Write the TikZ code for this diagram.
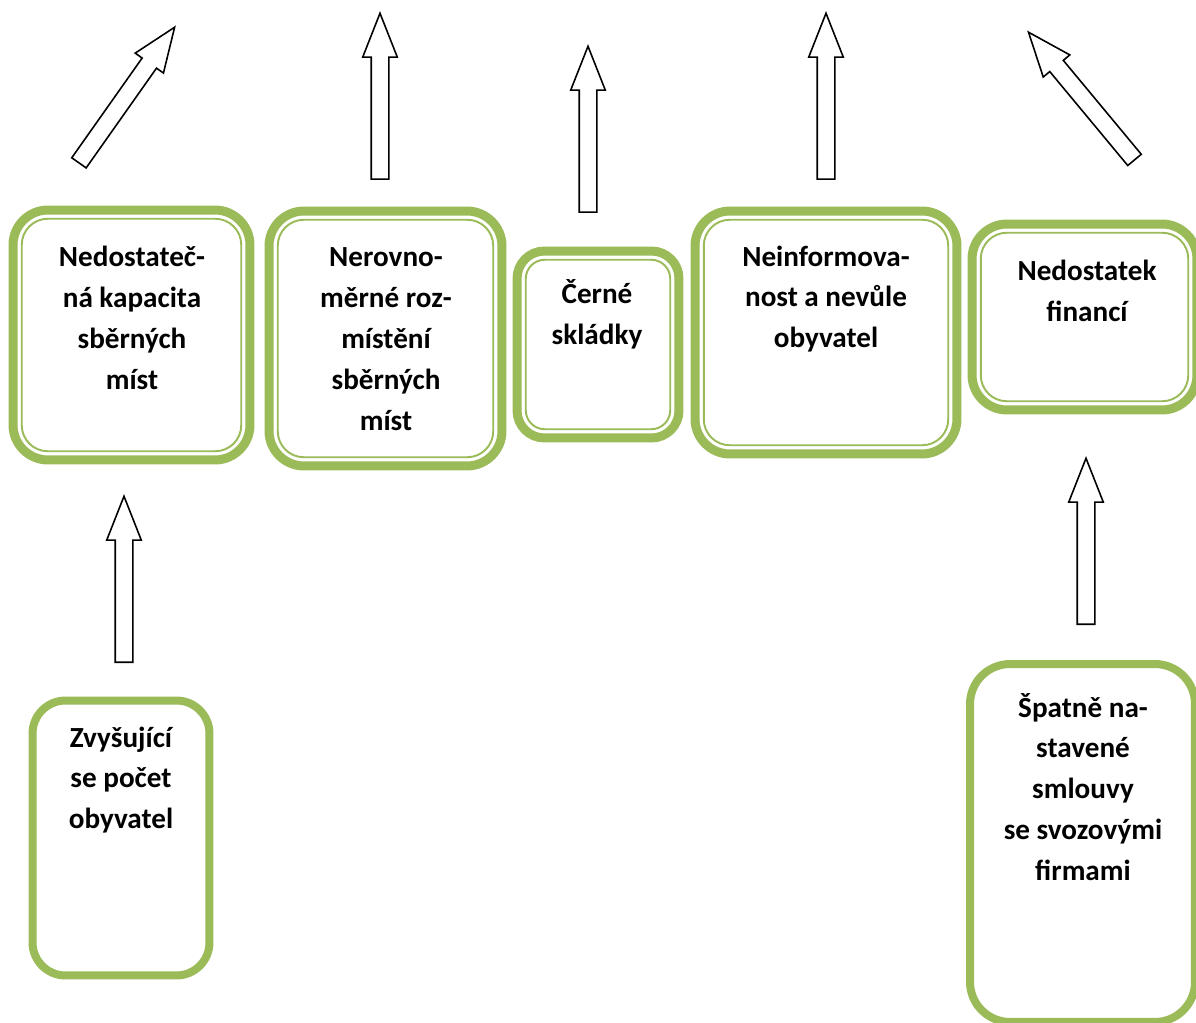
\documentclass[tikz,border=0pt]{standalone}
\usepackage{fontspec}
\setmainfont{Carlito}
\usetikzlibrary{shapes.arrows, positioning}
\definecolor{olivegreen}{HTML}{9BBB59}

\begin{document}
\begin{tikzpicture}[x=0.02cm, y=-0.02cm,
    font=\fontsize{16.6}{23.3}\selectfont\bfseries,
    box/.style={draw=olivegreen, fill=white, line width=0.18cm, outer sep=0pt, rounded corners=0.7cm},
    sbox/.style={draw=olivegreen, fill=white, line width=0.16cm, outer sep=0pt, rounded corners=0.66cm},
    innerline/.style={draw=olivegreen, line width=1.1pt, rounded corners=0.52cm},
    lbl/.style={align=center, inner sep=0pt},
    bigarrow/.style={single arrow, draw, fill=white, line width=0.9pt, inner xsep=0pt, inner ysep=0.16cm,
        single arrow head extend=0.17cm, single arrow tip angle=43, minimum height=3.32cm, anchor=tail}
]
    \path[use as bounding box, clip] (0,0) rectangle (1196,1023);

    \node[box, minimum width=4.74cm, minimum height=5.0cm]  (b1) at (131.5,335) {};
    \node[box, minimum width=4.66cm, minimum height=5.1cm]  (b2) at (385.5,338.5) {};
    \node[box, minimum width=3.24cm, minimum height=3.74cm, rounded corners=0.55cm] (b3) at (598,344.5) {};
    \node[box, minimum width=5.24cm, minimum height=4.86cm] (b4) at (826,332.5) {};
    \node[box, minimum width=4.5cm,  minimum height=3.72cm] (b5) at (1084.5,317) {};
    \node[sbox, minimum width=3.54cm, minimum height=5.5cm]  (b6) at (121,838) {};
    \node[sbox, minimum width=4.5cm,  minimum height=7.16cm, rounded corners=0.8cm] (b7) at (1082.5,843) {};

    \foreach \b in {b1,b2,b4,b5}
        \draw[innerline] ([shift={(0.175cm,0.175cm)}]\b.south west) rectangle ([shift={(-0.175cm,-0.175cm)}]\b.north east);
    \draw[innerline, rounded corners=0.38cm] ([shift={(0.175cm,0.175cm)}]b3.south west) rectangle ([shift={(-0.175cm,-0.175cm)}]b3.north east);

    \node[lbl] (t1) at (132,318)   {Nedostateč-\\ná kapacita\\sběrných\\míst};
    \node[lbl] (t2) at (386,339)   {Nerovno-\\měrné roz-\\místění\\sběrných\\míst};
    \node[lbl] (t3) at (597,314.5) {Černé\\skládky};
    \node[lbl] (t4) at (826,299)   {Neinformova-\\nost a nevůle\\obyvatel};
    \node[lbl] (t5) at (1087,290.5) {Nedostatek\\financí};
    \node[lbl] (t6) at (121,780)   {Zvyšující\\se počet\\obyvatel};
    \node[lbl] (t7) at (1083,787)  {Špatně na-\\stavené\\smlouvy\\se svozovými\\firmami};

    \node[bigarrow, rotate=54.8]  (a1) at (78.5,163.5) {};
    \node[bigarrow, rotate=90]    (a2) at (380,180) {};
    \node[bigarrow, rotate=90]    (a3) at (588,213) {};
    \node[bigarrow, rotate=90]    (a4) at (826,180) {};
    \node[bigarrow, rotate=129.7] (a5) at (1135,160.5) {};
    \node[bigarrow, rotate=90]    (a6) at (124,663) {};
    \node[bigarrow, rotate=90]    (a7) at (1086,625) {};
\end{tikzpicture}
\end{document}
